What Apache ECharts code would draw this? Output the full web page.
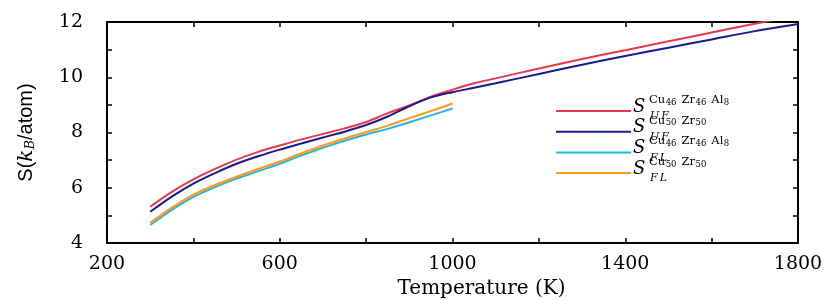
<!DOCTYPE html>
<html>
<head>
<meta charset="utf-8">
<script src="https://cdn.jsdelivr.net/npm/echarts@6/dist/echarts.min.js"></script>
<style>html,body{margin:0;padding:0;background:#fff}#c{width:830px;height:300px}</style>
</head>
<body>
<div id="c"></div>
<script>
// Temperatures (K)
const tempUF = [300,350,400,450,500,550,600,650,700,750,800,850,900,950,1000,1050,1100,1200,1300,1400,1500,1600,1700,1800];
const tempFL = [300,350,400,450,500,550,600,650,700,750,800,850,900,950,1000];
// Entropy S (k_B/atom)
const sUF_CuZrAl = [5.31,5.85,6.30,6.68,7.02,7.30,7.53,7.75,7.95,8.15,8.38,8.70,8.98,9.30,9.55,9.78,9.96,10.32,10.66,10.98,11.30,11.62,11.94,12.24];
const sUF_CuZr   = [5.13,5.68,6.15,6.53,6.87,7.14,7.38,7.60,7.82,8.03,8.27,8.58,8.95,9.27,9.46,9.62,9.78,10.12,10.45,10.77,11.07,11.37,11.67,11.93];
const sFL_CuZrAl = [4.65,5.20,5.67,6.02,6.33,6.60,6.87,7.17,7.45,7.70,7.93,8.13,8.37,8.62,8.87];
const sFL_CuZr   = [4.73,5.28,5.75,6.10,6.40,6.68,6.95,7.25,7.53,7.78,8.02,8.25,8.52,8.78,9.05];
const xTicks = [200,600,1000,1400,1800];
const yTicks = [4,6,8,10,12];

const pair = (xs, ys) => xs.map((x, i) => [x, ys[i]]);
const colors = ['#e8384f', '#1c1a8c', '#25b4ea', '#fd9a1c'];
const names = ['UF_CuZrAl', 'UF_CuZr', 'FL_CuZrAl', 'FL_CuZr'];
const seriesData = [pair(tempUF, sUF_CuZrAl), pair(tempUF, sUF_CuZr), pair(tempFL, sFL_CuZrAl), pair(tempFL, sFL_CuZr)];

const serif = 'DejaVu Serif';
const axisCommon = {
  axisLine: { show: true, lineStyle: { color: '#000', width: 2 } },
  axisTick: { show: true, inside: true, length: 5, lineStyle: { color: '#000', width: 1.5 } },
  splitLine: { show: false }
};

// legend labels (S with super/subscripts)
const supA = '{m|Cu}{n|46}{m|Zr}{n|46}{m|Al}{n|8}';
const supB = '{m|Cu}{n|50}{m|Zr}{n|50}';
const labels = [[supA, '{s|U}{s|F}'], [supB, '{s|U}{s|F}'], [supA, '{s|F}{s|L}'], [supB, '{s|F}{s|L}']];
const graphics = [];
labels.forEach((lb, i) => {
  const y0 = 110 + i * 20.7;
  graphics.push({ type: 'text', left: 633, top: y0 - 12, style: { text: 'S', font: 'italic 18px "DejaVu Serif"', fill: '#000' } });
  graphics.push({ type: 'text', left: 649, top: y0 - 16, style: { text: lb[0], fill: '#000',
    rich: { m: { fontFamily: serif, fontSize: 11.5, padding: [0, 0.5, 0, 3] }, n: { fontFamily: serif, fontSize: 8.5, padding: [5, 2, 0, 0] } } } });
  graphics.push({ type: 'text', left: 650, top: y0 + 1, style: { text: lb[1], fill: '#000',
    rich: { s: { fontFamily: serif, fontStyle: 'italic', fontSize: 11, padding: [0, 1, 0, 1] } } } });
});

const chart = echarts.init(document.getElementById('c'), null, { renderer: 'canvas' });
chart.setOption({
  animation: false,
  backgroundColor: '#fff',
  grid: { left: 107, right: 32, top: 22, bottom: 57, outerBoundsMode: 'none' },
  xAxis: [
    Object.assign({}, axisCommon, {
      type: 'value', min: 200, max: 1800, interval: 200, position: 'bottom',
      name: 'Temperature (K)', nameLocation: 'middle', nameGap: 34,
      nameTextStyle: { fontFamily: serif, fontSize: 20, color: '#000', padding: [0, 0, 0, 58] },
      axisLabel: { margin: 12, fontFamily: serif, fontSize: 19, color: '#000',
        formatter: v => xTicks.includes(v) ? String(v) : '' }
    }),
    Object.assign({}, axisCommon, {
      type: 'value', min: 200, max: 1800, interval: 200, position: 'top', axisLabel: { show: false }
    })
  ],
  yAxis: [
    Object.assign({}, axisCommon, {
      type: 'value', min: 4, max: 12, interval: 1, position: 'left',
      name: '{a|S(}{k|k}{b|B}{a|/atom)}', nameLocation: 'middle', nameGap: 70,
      nameTextStyle: { color: '#000', rich: {
        a: { fontFamily: 'Liberation Sans', fontSize: 20, color: '#000' },
        k: { fontFamily: serif, fontStyle: 'italic', fontSize: 20, color: '#000' },
        b: { fontFamily: serif, fontStyle: 'italic', fontSize: 13, color: '#000', padding: [8, 0, 0, 0] }
      } },
      axisLabel: { margin: 24, fontFamily: serif, fontSize: 19, color: '#000',
        formatter: v => yTicks.includes(v) ? String(v) : '' }
    }),
    Object.assign({}, axisCommon, {
      type: 'value', min: 4, max: 12, interval: 1, position: 'right', axisLabel: { show: false }
    })
  ],
  legend: {
    orient: 'vertical', left: 551, top: 105, itemWidth: 75, itemHeight: 2, itemGap: 18.7,
    icon: 'rect', formatter: () => '', textStyle: { fontSize: 1 },
    data: names
  },
  graphic: graphics,
  series: names.map((n, i) => ({
    name: n, type: 'line', xAxisIndex: 0, yAxisIndex: 0, data: seriesData[i],
    showSymbol: false, smooth: 0.3, clip: true,
    lineStyle: { color: colors[i], width: 2 }, itemStyle: { color: colors[i] }
  }))
});
</script>
</body>
</html>
